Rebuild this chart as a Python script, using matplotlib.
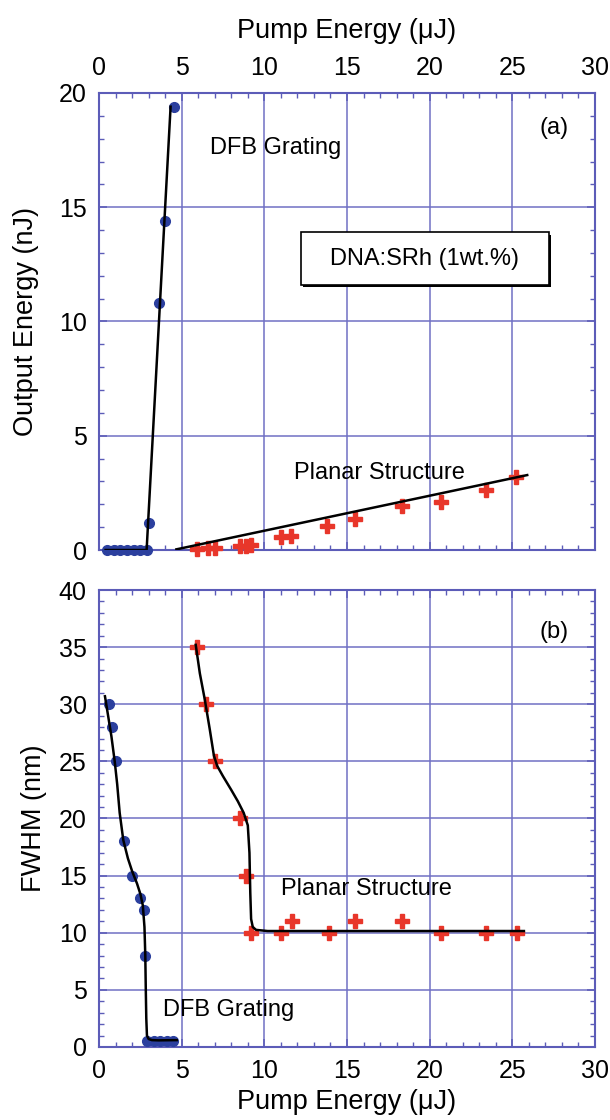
import numpy as np
import matplotlib.pyplot as plt
from matplotlib.patches import Rectangle
from matplotlib.ticker import MultipleLocator

plt.rcParams['font.family'] = ['Liberation Sans', 'DejaVu Sans']

# (a) output energy vs pump energy
dfb_pump_a = [0.5, 0.9, 1.3, 1.7, 2.1, 2.5, 2.9, 3.0, 3.6, 4.0, 4.55]
dfb_out_a = [0, 0, 0, 0, 0, 0, 0, 1.2, 10.8, 14.4, 19.4]
dfb_fit_x = [0.4, 2.88, 4.33]
dfb_fit_y = [0, 0, 19.4]

pl_pump_a = [5.9, 6.6, 7.0, 8.5, 8.9, 9.2, 11.0, 11.6, 13.8, 15.5, 18.3, 20.7, 23.4, 25.2]
pl_out_a = [0.05, 0.1, 0.1, 0.17, 0.17, 0.2, 0.55, 0.63, 1.06, 1.34, 1.92, 2.11, 2.62, 3.21]
pl_fit_x = [4.68, 25.9]
pl_fit_y = [0.03, 3.28]

# (b) FWHM vs pump energy
dfb_pump_b = [0.6, 0.8, 1.0, 1.5, 2.0, 2.5, 2.7, 2.8, 2.9, 3.3, 3.7, 4.1, 4.5]
dfb_fwhm_b = [30, 28, 25, 18, 15, 13, 12, 8, 0.5, 0.5, 0.5, 0.5, 0.5]
dfb_curve_x = [0.36, 0.55, 0.75, 0.95, 1.1, 1.25, 1.47, 1.75, 2.0, 2.3, 2.5, 2.65,
               2.75, 2.8, 2.83, 2.86, 2.9, 3.0, 3.2, 3.6, 4.7]
dfb_curve_y = [30.7, 29.0, 27.2, 25.0, 23.0, 20.5, 18.1, 16.5, 15.4, 14.3, 13.4, 12.4,
               10.5, 8.0, 5.0, 2.5, 1.0, 0.7, 0.6, 0.58, 0.6]

pl_pump_b = [5.9, 6.5, 7.0, 8.5, 8.9, 9.2, 11.0, 11.7, 13.9, 15.5, 18.3, 20.7, 23.4, 25.3]
pl_fwhm_b = [35, 30, 25, 20, 15, 10, 10, 11, 10, 11, 11, 10, 10, 10]
pl_curve_x = [5.85, 6.1, 6.4, 6.7, 6.95, 7.15, 7.5, 8.0, 8.4, 8.75, 9.0, 9.1, 9.15,
              9.2, 9.3, 9.5, 10.2, 25.7]
pl_curve_y = [35.2, 32.7, 30.4, 27.8, 25.5, 24.6, 23.7, 22.5, 21.5, 20.5, 19.4, 17.0,
              13.5, 11.2, 10.5, 10.25, 10.15, 10.15]

grid_col = '#7070c4'
spine_col = '#5c5cb8'
blue = '#2b3f9e'
red = '#e8362a'

fig = plt.figure(figsize=(6.1, 11.2), dpi=100)
ax1 = fig.add_axes([0.1623, 0.5089, 0.8131, 0.4081])
ax2 = fig.add_axes([0.1623, 0.0652, 0.8131, 0.4080])


def style_axes(ax, ymax, ystep):
    ax.set_xlim(0, 30)
    ax.set_ylim(0, ymax)
    ax.xaxis.set_major_locator(MultipleLocator(5))
    ax.xaxis.set_minor_locator(MultipleLocator(1))
    ax.yaxis.set_major_locator(MultipleLocator(ystep))
    ax.yaxis.set_minor_locator(MultipleLocator(1))
    ax.grid(True, which='major', color=grid_col, lw=1.1)
    ax.set_axisbelow(True)
    for s in ax.spines.values():
        s.set_color(spine_col)
        s.set_linewidth(1.5)
    ax.tick_params(which='both', direction='in', top=True, right=True,
                   color=spine_col, labelsize=18, pad=9)
    ax.tick_params(which='major', length=6, width=1.1)
    ax.tick_params(which='minor', length=3.5, width=1)


style_axes(ax1, 20, 5)
ax1.tick_params(labeltop=True, labelbottom=False)
ax1.xaxis.set_label_position('top')
ax1.set_xlabel('Pump Energy (\u03bcJ)', fontsize=19.5, labelpad=13)
ax1.set_ylabel('Output Energy (nJ)', fontsize=19.5, labelpad=14)

ax1.plot(dfb_pump_a, dfb_out_a, 'o', color=blue, ms=7, zorder=3, clip_on=False)
ax1.plot(pl_pump_a, pl_out_a, 'P', color=red, ms=10, zorder=3, clip_on=False)
ax1.plot(dfb_fit_x, dfb_fit_y, color='black', lw=1.8, zorder=4)
ax1.plot(pl_fit_x, pl_fit_y, color='black', lw=1.8, zorder=4)

ax1.text(6.7, 17.6, 'DFB Grating', fontsize=17, va='center', ha='left')
ax1.text(27.5, 18.45, '(a)', fontsize=17, va='center', ha='center')
ax1.text(11.8, 3.37, 'Planar Structure', fontsize=17, va='center', ha='left')
ax1.add_patch(Rectangle((12.35, 11.5), 15.0, 2.3, facecolor='black', edgecolor='none', zorder=4))
ax1.add_patch(Rectangle((12.2, 11.6), 15.0, 2.3, facecolor='white', edgecolor='black',
                        lw=1.2, zorder=5))
ax1.text(19.7, 12.75, 'DNA:SRh (1wt.%)', fontsize=17, va='center', ha='center', zorder=6)

style_axes(ax2, 40, 5)
ax2.set_xlabel('Pump Energy (\u03bcJ)', fontsize=19.5, labelpad=4)
ax2.set_ylabel('FWHM (nm)', fontsize=19.5, labelpad=8)

ax2.plot(dfb_pump_b, dfb_fwhm_b, 'o', color=blue, ms=7, zorder=3, clip_on=False)
ax2.plot(pl_pump_b, pl_fwhm_b, 'P', color=red, ms=10, zorder=3, clip_on=False)
ax2.plot(dfb_curve_x, dfb_curve_y, color='black', lw=1.8, zorder=4)
ax2.plot(pl_curve_x, pl_curve_y, color='black', lw=1.8, zorder=4)

ax2.text(27.5, 36.3, '(b)', fontsize=17, va='center', ha='center')
ax2.text(11.0, 13.8, 'Planar Structure', fontsize=17, va='center', ha='left')
ax2.text(3.85, 3.24, 'DFB Grating', fontsize=17, va='center', ha='left')

fig.savefig('out.png', dpi=100)
